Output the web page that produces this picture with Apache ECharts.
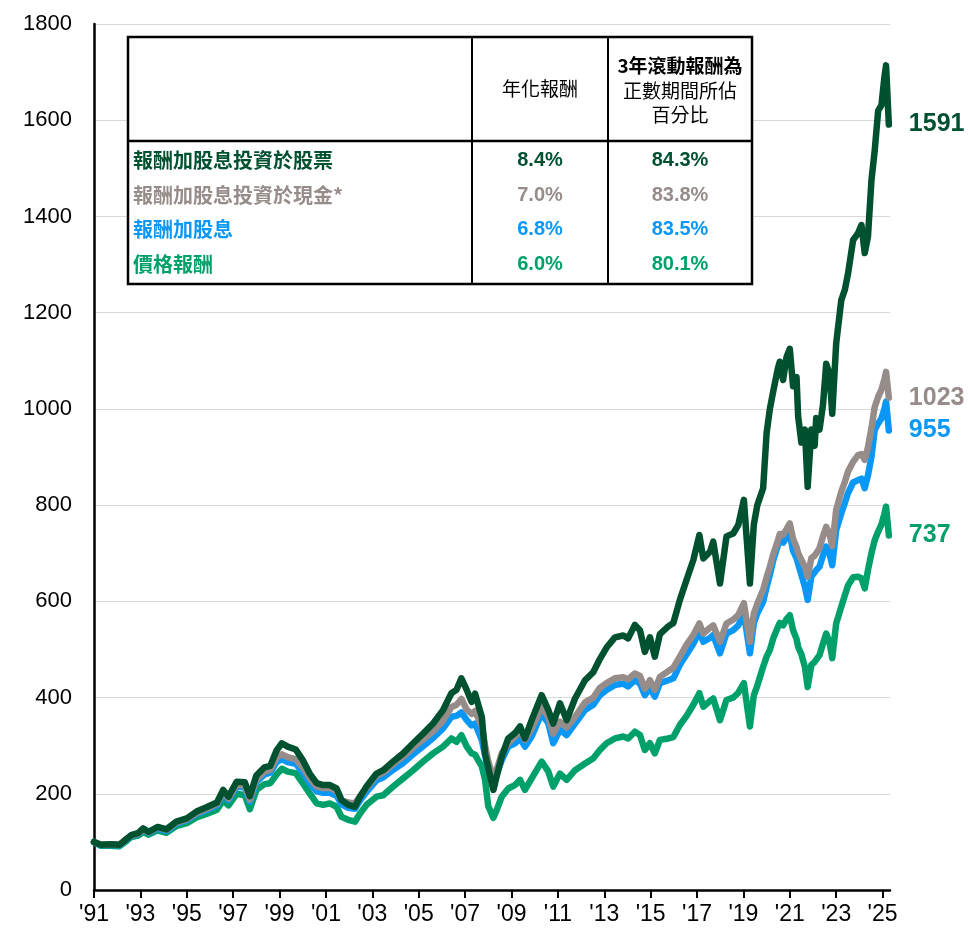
<!DOCTYPE html>
<html>
<head>
<meta charset="utf-8">
<script src="https://cdn.jsdelivr.net/npm/echarts@6/dist/echarts.min.js"></script>
<style>
html,body{margin:0;padding:0;background:#fff;}
#chart{width:968px;height:934px;}
</style>
</head>
<body>
<div id="chart"></div>
<script>
// ---- data (axis years as labelled on the chart) ----
const dates = [
1991.00,1991.30,1991.70,1992.10,1992.35,1992.60,1992.90,1993.12,1993.35,1993.75,
1994.12,1994.55,1995.00,1995.42,1995.85,1996.30,1996.57,1996.80,1997.15,1997.50,
1997.72,1998.00,1998.35,1998.60,1998.87,1999.10,1999.35,1999.70,2000.00,2000.30,
2000.60,2000.88,2001.17,2001.46,2001.67,2001.96,2002.25,2002.47,2002.75,2003.18,
2003.47,2003.90,2004.33,2004.76,2005.19,2005.62,2006.05,2006.41,2006.63,2006.84,
2007.07,2007.28,2007.43,2007.72,2007.86,2008.00,2008.22,2008.36,2008.58,2008.86,
2009.15,2009.37,2009.58,2009.87,2010.30,2010.59,2010.80,2011.09,2011.38,2011.74,
2012.17,2012.53,2012.81,2013.10,2013.46,2013.82,2014.03,2014.32,2014.54,2014.75,
2014.97,2015.18,2015.40,2015.76,2015.98,2016.26,2016.55,2016.84,2017.10,2017.27,
2017.56,2017.70,2017.99,2018.27,2018.56,2018.78,2019.02,2019.28,2019.45,2019.60,
2019.85,2020.00,2020.14,2020.30,2020.49,2020.57,2020.71,2020.86,2021.00,2021.14,
2021.29,2021.36,2021.50,2021.65,2021.77,2021.93,2022.07,2022.14,2022.28,2022.43,
2022.57,2022.71,2022.83,2023.00,2023.22,2023.37,2023.51,2023.73,2023.94,2024.09,
2024.23,2024.37,2024.52,2024.66,2024.81,2024.95,2025.08,2025.15,2025.27
];
// 報酬加股息投資於股票
const stockReinvest = [
100,94,95,94,104,114,118,128,121,131,
126,142,149,163,172,182,208,194,225,224,
195,238,255,258,290,305,298,292,270,242,
222,218,218,211,187,177,173,194,215,242,
249,267,284,305,325,346,374,409,416,440,
416,391,408,360,284,253,208,236,277,315,
326,340,315,353,405,374,346,388,353,398,
436,453,480,504,525,529,523,551,540,495,
525,485,532,548,555,603,645,686,738,689,
703,724,637,735,741,759,811,637,760,800,
835,950,1000,1040,1085,1098,1060,1108,1125,1047,
1066,984,930,957,838,957,923,981,957,1008,
1094,1074,990,1136,1226,1247,1281,1351,1365,1382,
1324,1358,1475,1537,1620,1631,1690,1714,1591
];
// 報酬加股息投資於現金*
const cashReinvest = [
100,94,95,94,104,113,117,126,120,130,
125,140,147,160,169,179,204,190,219,217,
188,230,246,250,275,282,276,272,255,232,
215,212,212,206,186,182,180,195,212,238,
244,262,277,296,313,330,352,380,385,397,
375,366,372,340,300,268,232,250,284,305,
319,333,312,336,380,360,325,350,338,360,
390,400,420,430,440,442,438,450,445,418,
436,416,443,455,462,485,510,530,554,533,
545,550,516,554,562,572,596,516,575,595,
624,650,672,700,727,740,738,750,762,730,
713,700,686,672,651,690,695,700,710,735,
755,740,715,790,828,848,870,890,904,906,
894,920,960,1004,1025,1040,1062,1077,1023
];
// 報酬加股息
const priceDividend = [
100,93,94,93,103,112,116,125,119,128,
123,138,145,158,166,176,200,187,215,213,
184,225,240,244,266,272,266,262,245,222,
205,202,202,196,178,171,169,186,204,228,
234,250,264,282,299,316,336,360,362,369,
353,342,346,312,280,250,222,240,270,298,
305,315,298,319,367,346,305,333,322,346,
374,385,405,416,426,429,423,436,429,405,
420,402,430,436,440,468,490,512,537,516,
524,530,492,533,540,550,575,492,555,575,
599,630,655,688,717,725,722,733,741,705,
690,678,655,630,603,652,660,665,672,695,
714,700,675,748,783,804,825,847,852,855,
835,862,900,956,970,980,1000,1015,955
];
// 價格報酬
const priceReturn = [
99,92,92,91,100,110,113,121,115,124,
119,133,139,151,158,167,186,176,200,197,
168,208,220,222,240,252,246,243,222,201,
180,177,180,173,152,146,142,159,177,194,
197,215,232,249,267,284,298,315,308,322,
298,284,281,257,229,174,150,166,194,211,
218,229,208,232,267,246,215,242,229,249,
263,274,291,305,315,319,315,329,322,291,
305,284,312,315,318,343,362,385,409,381,
393,398,353,395,400,410,430,340,405,425,
464,485,499,525,547,555,550,563,571,540,
522,505,490,464,422,468,474,478,488,512,
533,515,482,554,589,612,633,650,651,648,
627,665,700,727,745,760,782,797,737
];

const tickYears = [1991,1993,1995,1997,1999,2001,2003,2005,2007,2009,2011,2013,2015,2017,2019,2021,2023,2025];
const tickLabels = ["'91","'93","'95","'97","'99","'01","'03","'05","'07","'09","'11","'13","'15","'17","'19","'21","'23","'25"];

const seriesNames = ['報酬加股息投資於股票','報酬加股息投資於現金*','報酬加股息','價格報酬'];
const annualized = ['8.4%','7.0%','6.8%','6.0%'];
const rollingPositive = ['84.3%','83.8%','83.5%','80.1%'];
const headerCol2 = '年化報酬';
const headerCol3 = ['3年滾動報酬為','正數期間所佔','百分比'];

// ---- styles ----
const colors = ['#00512f','#968c89','#0a97f5','#00a06b'];
const cjk = '"Noto Sans CJK TC","Noto Sans CJK SC",sans-serif';
const latin = '"Liberation Sans",Arial,sans-serif';

const valueSets = [stockReinvest, cashReinvest, priceDividend, priceReturn];
const drawOrder = [3,2,1,0];

const series = drawOrder.map(function(k){
  const vals = valueSets[k];
  return {
    name: seriesNames[k],
    type: 'line',
    data: dates.map(function(t,i){ return [t, vals[i]]; }),
    showSymbol: false,
    symbol: 'none',
    z: 10 + (3-k),
    lineStyle: {color: colors[k], width: 6.5, cap: 'round', join: 'round'},
    itemStyle: {color: colors[k]},
    endLabel: {
      show: true,
      formatter: function(){ return String(vals[vals.length-1]); },
      color: colors[k],
      fontSize: 25,
      fontWeight: 'bold',
      fontFamily: latin,
      distance: 20
    },
    emphasis: {disabled: true}
  };
});

// ---- table as graphic ----
const T = {left:128, top:37, right:752, bottom:284, c1:472, c2:608, hb:141};
const rowY = [160,195,229,264];
const g = [];
g.push({type:'rect', z:100, shape:{x:T.left, y:T.top, width:T.right-T.left, height:T.bottom-T.top},
        style:{fill:'#fff', stroke:'#000', lineWidth:2.5}});
g.push({type:'line', z:101, shape:{x1:T.c1, y1:T.top, x2:T.c1, y2:T.bottom}, style:{stroke:'#000', lineWidth:2}});
g.push({type:'line', z:101, shape:{x1:T.c2, y1:T.top, x2:T.c2, y2:T.bottom}, style:{stroke:'#000', lineWidth:2}});
g.push({type:'line', z:101, shape:{x1:T.left, y1:T.hb, x2:T.right, y2:T.hb}, style:{stroke:'#000', lineWidth:2.5}});
g.push({type:'text', z:102, style:{text:headerCol2, x:(T.c1+T.c2)/2, y:89, fill:'#000',
        fontSize:19, fontFamily:cjk, fontWeight:'normal', align:'center', verticalAlign:'middle'}});
headerCol3.forEach(function(s,i){
  g.push({type:'text', z:102, style:{text:s, x:(T.c2+T.right)/2, y:66+i*24.5, fill:'#000',
        fontSize:19, fontFamily:cjk, fontWeight: i===0 ? 'bold' : 'normal', align:'center', verticalAlign:'middle'}});
});
seriesNames.forEach(function(name,i){
  g.push({type:'text', z:102, style:{text:name, x:T.left+5, y:rowY[i], fill:colors[i],
        fontSize:20, fontFamily:cjk, fontWeight:'bold', align:'left', verticalAlign:'middle'}});
  g.push({type:'text', z:102, style:{text:annualized[i], x:(T.c1+T.c2)/2, y:rowY[i], fill:colors[i],
        fontSize:20, fontFamily:latin, fontWeight:'bold', align:'center', verticalAlign:'middle'}});
  g.push({type:'text', z:102, style:{text:rollingPositive[i], x:(T.c2+T.right)/2, y:rowY[i], fill:colors[i],
        fontSize:20, fontFamily:latin, fontWeight:'bold', align:'center', verticalAlign:'middle'}});
});

const chart = echarts.init(document.getElementById('chart'), null, {renderer:'canvas'});
chart.setOption({
  animation: false,
  backgroundColor: '#fff',
  grid: {left:94, right:78, top:24, bottom:44, containLabel:false},
  xAxis: {
    type: 'value', min: 1991, max: 2025.32,
    axisLine: {onZero:false, lineStyle:{color:'#000', width:2.5}},
    axisTick: {show:true, customValues: tickYears, length:8, lineStyle:{color:'#000', width:2}},
    axisLabel: {customValues: tickYears, color:'#000', fontSize:23,
      fontFamily:latin, margin:13,
      formatter: function(v){ const i = tickYears.indexOf(Math.round(v)); return i>=0 ? tickLabels[i] : ''; }},
    splitLine: {show:false}
  },
  yAxis: {
    type: 'value', min: 0, max: 1800, interval: 200,
    axisLine: {show:true, lineStyle:{color:'#000', width:2.5}},
    axisTick: {show:false},
    axisLabel: {color:'#000', fontSize:22, fontFamily:latin, margin:22,
      formatter: function(v){ return String(v); }},
    splitLine: {show:true, lineStyle:{color:'#d9d9d9', width:1}}
  },
  graphic: g,
  series: series
});
</script>
</body>
</html>
